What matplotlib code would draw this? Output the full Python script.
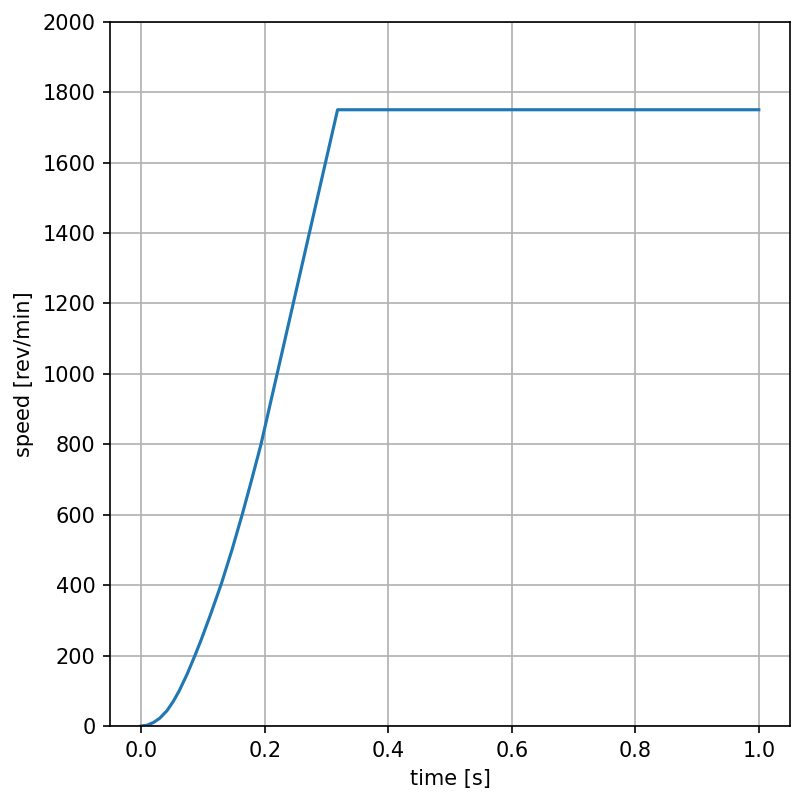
import matplotlib
matplotlib.use("Agg")
import matplotlib.pyplot as plt

# time [s] and speed [rev/min]
time_s = [0.0, 0.01, 0.02, 0.03, 0.042, 0.052, 0.0616, 0.0746, 0.087, 0.097,
          0.113, 0.13, 0.147, 0.164, 0.179, 0.194, 0.318, 1.0]
speed = [0, 2.5, 10, 22, 44, 70, 100, 148, 200, 244,
         320, 405, 500, 603, 700, 800, 1750, 1750]

yticks = [0, 200, 400, 600, 800, 1000, 1200, 1400, 1600, 1800, 2000]

fig = plt.figure(figsize=(805 / 150, 804 / 150), dpi=150)
ax = fig.add_axes([0.137, 0.097, 0.844, 0.876])
ax.plot(time_s, speed)
ax.set_ylim(0, 2000)
ax.set_yticks(yticks)
ax.set_xlabel("time [s]")
ax.set_ylabel("speed [rev/min]")
ax.grid(True)

fig.savefig("out.png", dpi=150)
